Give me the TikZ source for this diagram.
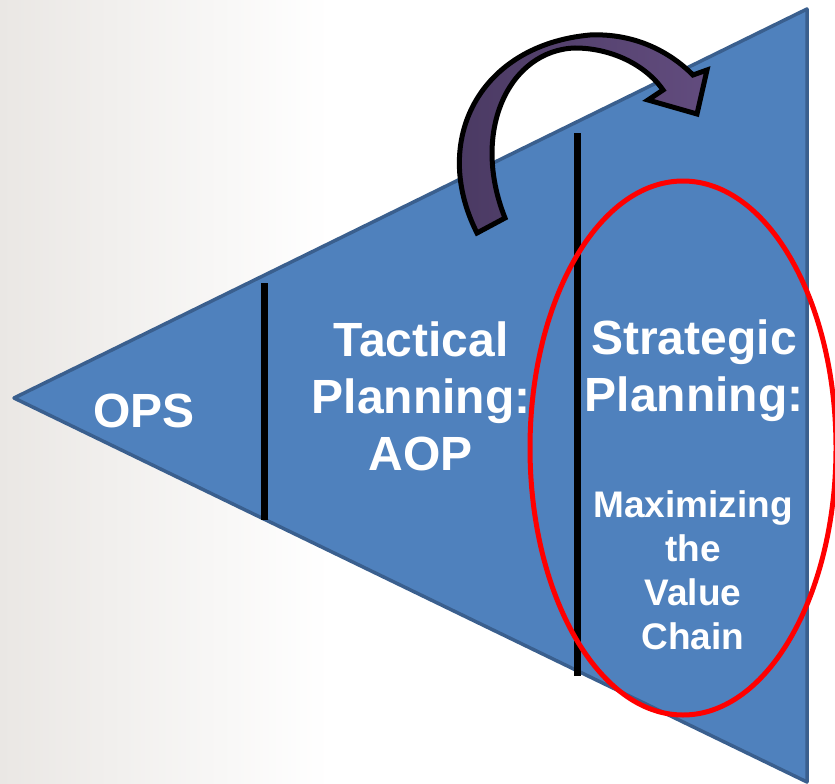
\documentclass[tikz,border=0pt]{standalone}
\usepackage{fontspec}
\setmainfont{Liberation Sans}
\definecolor{triblue}{RGB}{79,129,189}
\definecolor{triedge}{RGB}{58,95,142}
\definecolor{arrowdark}{RGB}{72,56,96}
\definecolor{arrowlight}{RGB}{98,76,126}
\definecolor{bggray}{RGB}{234,231,228}
\definecolor{ringred}{RGB}{255,0,0}

\begin{document}
\begin{tikzpicture}[x=1pt,y=-1pt]
\useasboundingbox (0,0) rectangle (835,784);

% Faded grey background on the left
\shade[left color=bggray,right color=white] (0,0) rectangle (330,784);

% The planning triangle
\coordinate (tip) at (14,398);
\coordinate (tr) at (807,9);
\coordinate (br) at (807,782);
\draw[triedge,fill=triblue,line width=3.5pt,line join=round] (tip) -- (tr) -- (br) -- cycle;

% Black dividers between the three stages
\foreach \x/\ya/\yb [count=\idx] in {264/283/520,577/133/676} {
  \coordinate (d\idx a) at (\x,\ya);
  \coordinate (d\idx b) at (\x,\yb);
  \draw[line width=7pt] (d\idx a) -- (d\idx b);
}

% Curved arrow jumping over the tactical stage
\draw[line width=5pt,line join=miter,left color=arrowdark,right color=arrowlight]
  (477,233) .. controls (430,140) and (480,45) .. (590,35)
  .. controls (635,33) and (670,52) .. (693,75)
  -- (707,70) -- (697,114) -- (648,100) -- (663,90)
  .. controls (645,64) and (610,48) .. (575,48)
  .. controls (510,50) and (470,130) .. (505,218) -- cycle;

% Red ring round the strategic stage
\draw[ringred,line width=5pt] (683,448) ellipse [x radius=153,y radius=267];

% Stage labels
\tikzstyle{every node}=[text=white,inner sep=0pt,align=center,anchor=north];
\tikzstyle{big}=[font=\fontsize{48}{57}\selectfont\bfseries];
\tikzstyle{small}=[font=\fontsize{37}{44}\selectfont\bfseries];
\node[big] (ops) at (144,394) {OPS};
\node[big] (tactical) at (421,322) {Tactical\\Planning:\\AOP};
\node[big] (strategic) at (694,320) {Strategic\\Planning:};
\node[small] (valuechain) at (693,490) {Maximizing\\the\\Value\\Chain};

\end{tikzpicture}
\end{document}
